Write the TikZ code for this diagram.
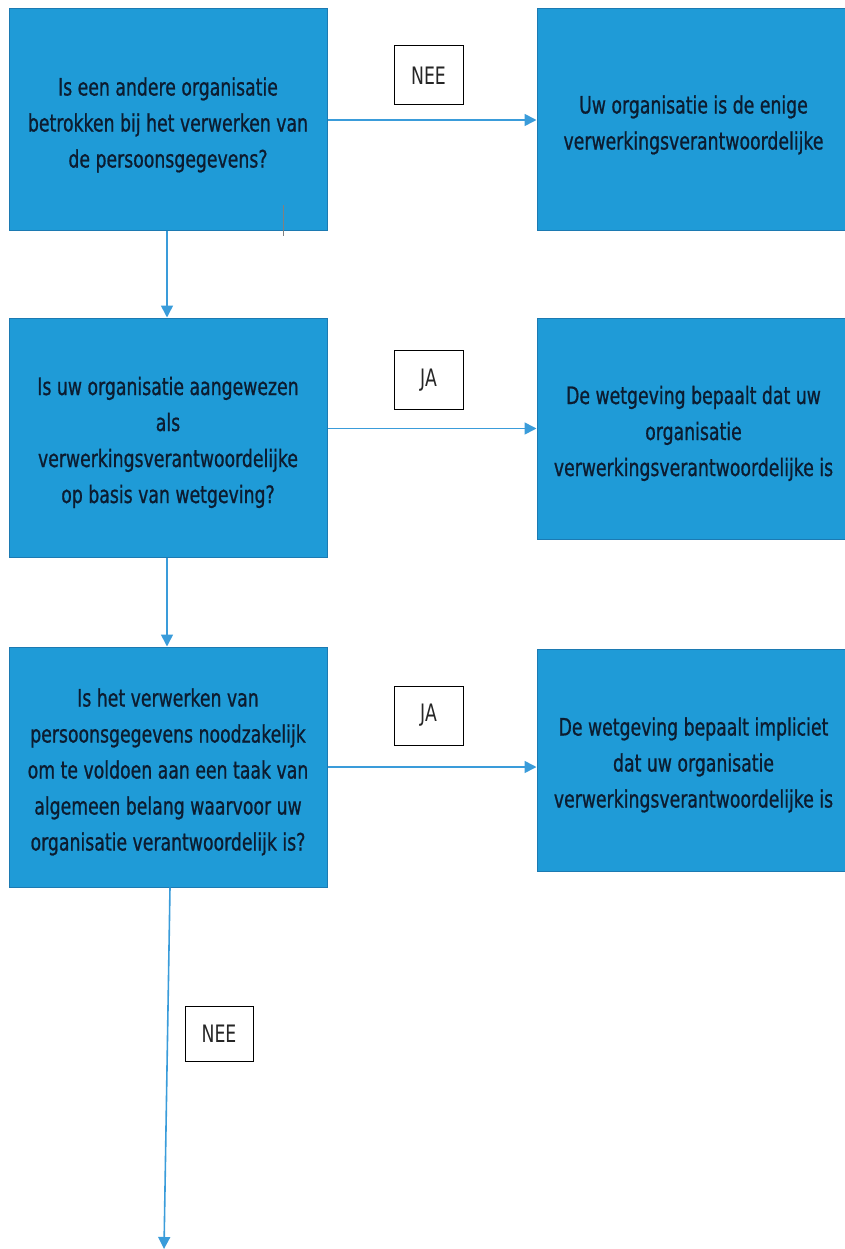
\documentclass[tikz,border=0pt]{standalone}
\usepackage{fontspec}
\setmainfont{DejaVu Sans}[FakeStretch=0.72]
\newfontfamily\boxfont{DejaVu Sans}[FakeStretch=0.72, FakeBold=0.8]
\usetikzlibrary{positioning}
\usetikzlibrary{calc}
\usetikzlibrary{arrows.meta}
\definecolor{boxblue}{RGB}{31,155,215}
\definecolor{boxedge}{RGB}{28,122,178}
\definecolor{lineblue}{RGB}{58,156,218}
\definecolor{inktext}{RGB}{12,28,48}

\begin{document}
\begin{tikzpicture}[x=1pt, y=-1pt,
    every node/.style={font=\fontsize{24}{36}\selectfont, inner sep=0pt},
    qbox/.style={draw=boxedge, line width=1pt, fill=boxblue, text=inktext, align=center, minimum width=318pt,
      font=\boxfont\fontsize{24}{36}\selectfont},
    abox/.style={qbox, minimum width=313pt},
    tagbox/.style={draw=black, line width=1pt, fill=white, text=black!85, minimum width=69pt, minimum height=59pt},
    flow/.style={draw=lineblue, line width=1.6pt, -{Triangle[width=12pt,length=12pt]}}]
			\useasboundingbox (0,0) rectangle (844,1249);
			% vragen links
			\node[qbox, minimum height=222pt] (q1) at (168,120) {\rule{0pt}{28pt}Is een andere organisatie\\betrokken bij het verwerken van\\de persoonsgegevens?};
			\node[qbox, minimum height=239pt] (q2) at (168,437.5) {\rule{0pt}{28pt}Is uw organisatie aangewezen\\als\\verwerkingsverantwoordelijke\\op basis van wetgeving?};
			\node[qbox, minimum height=240pt] (q3) at (168,767) {\rule{0pt}{28pt}Is het verwerken van\\persoonsgegevens noodzakelijk\\om te voldoen aan een taak van\\algemeen belang waarvoor uw\\organisatie verantwoordelijk is?};
			% uitkomsten rechts
			\node[abox, minimum height=222pt] (a1) at (693.5,120) {\rule{0pt}{28pt}Uw organisatie is de enige\\verwerkingsverantwoordelijke};
			\node[abox, minimum height=221pt] (a2) at (693.5,428.5) {\rule{0pt}{28pt}De wetgeving bepaalt dat uw\\organisatie\\verwerkingsverantwoordelijke is};
			\node[abox, minimum height=222pt] (a3) at (693.5,760) {\rule{0pt}{28pt}De wetgeving bepaalt impliciet\\dat uw organisatie\\verwerkingsverantwoordelijke is};
			% antwoorden
			\node[tagbox] (nee1) at (428.5,75.5) {NEE};
			\node[tagbox] (ja1) at (428.5,380) {JA};
			\node[tagbox] (ja2) at (428.5,715.5) {JA};
			\node[tagbox, minimum width=68pt, minimum height=55pt] (nee2) at (219,1033.5) {NEE};
			\coordinate (end) at (164,1249);
			\draw[flow] (q1.east) -- (a1.west);
			\draw[flow] (q2.east |- a2.west) -- (a2.west);
			\draw[flow] (q3.east) -- (a3.west |- q3.east);
			\draw[flow] ($(q1.south)+(-1,0)$) -- ($(q2.north)+(-1,0)$);
			\draw[flow] ($(q2.south)+(-1,0)$) -- ($(q3.north)+(-1,0)$);
			\draw[flow] ($(q3.south)+(2,0)$) -- (end);
			\draw[gray, line width=1pt] (283,205) -- (283,236);
		\end{tikzpicture}
\end{document}
